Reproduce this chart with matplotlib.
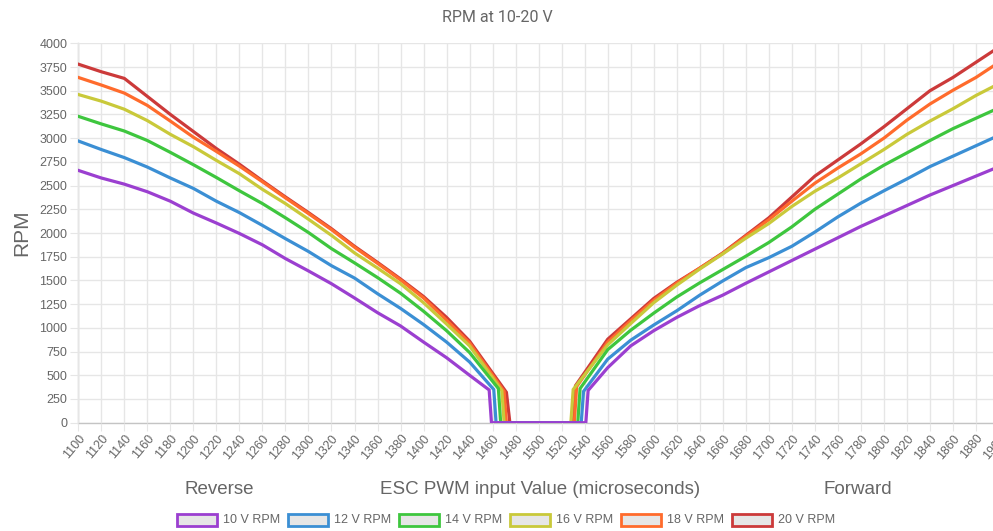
import matplotlib
matplotlib.use("Agg")
import matplotlib.pyplot as plt
from matplotlib.patches import Rectangle

# --- Data ---
labels = ["10 V RPM", "12 V RPM", "14 V RPM", "16 V RPM", "18 V RPM", "20 V RPM"]
colors = ["#9b3fd0", "#3b8fd4", "#3ec63e", "#c9c93a", "#ff6b2c", "#cc3a3a"]

rev_pwm = [1100, 1120, 1140, 1160, 1180, 1200, 1220, 1240, 1260,
           1280, 1300, 1320, 1340, 1360, 1380, 1400, 1420, 1440]
fwd_pwm = [1560, 1580, 1600, 1620, 1640, 1660, 1680, 1700, 1720,
           1740, 1760, 1780, 1800, 1820, 1840, 1860, 1880, 1900]

rpm10_rev = [2660, 2580, 2515, 2435, 2335, 2210, 2105, 1995, 1875,
             1730, 1600, 1465, 1315, 1160, 1020, 850, 685, 500]
rpm12_rev = [2970, 2880, 2795, 2695, 2580, 2470, 2335, 2215, 2080,
             1940, 1805, 1655, 1525, 1360, 1205, 1035, 850, 640]
rpm14_rev = [3230, 3150, 3075, 2975, 2850, 2720, 2585, 2445, 2310,
             2160, 2005, 1835, 1685, 1530, 1365, 1175, 970, 740]
rpm16_rev = [3460, 3390, 3305, 3185, 3040, 2910, 2765, 2625, 2460,
             2310, 2145, 1975, 1790, 1630, 1465, 1265, 1040, 810]
rpm18_rev = [3640, 3560, 3475, 3345, 3180, 3010, 2860, 2705, 2540,
             2370, 2205, 2035, 1850, 1680, 1505, 1315, 1080, 840]
rpm20_rev = [3780, 3700, 3630, 3440, 3250, 3070, 2890, 2725, 2550,
             2380, 2215, 2045, 1860, 1690, 1515, 1330, 1110, 860]

rpm10_fwd = [580, 810, 970, 1110, 1235, 1345, 1470, 1590, 1710,
             1830, 1950, 2070, 2180, 2290, 2400, 2500, 2600, 2700]
rpm12_fwd = [670, 870, 1030, 1180, 1345, 1495, 1635, 1740, 1860,
             2010, 2170, 2315, 2445, 2570, 2700, 2810, 2920, 3030]
rpm14_fwd = [770, 975, 1155, 1325, 1475, 1615, 1755, 1900, 2065,
             2250, 2410, 2570, 2715, 2845, 2975, 3100, 3210, 3320]
rpm16_fwd = [820, 1045, 1265, 1450, 1620, 1780, 1945, 2100, 2280,
             2440, 2580, 2730, 2880, 3040, 3180, 3310, 3450, 3575]
rpm18_fwd = [850, 1075, 1290, 1470, 1630, 1785, 1965, 2140, 2335,
             2525, 2685, 2835, 3000, 3190, 3360, 3505, 3640, 3800]
rpm20_fwd = [880, 1095, 1310, 1480, 1630, 1790, 1975, 2160, 2380,
             2600, 2770, 2940, 3120, 3310, 3500, 3640, 3800, 3960]

# dead-band edges: last point before cut-off, where it hits zero, and the mirror on the forward side
knee_rev_pwm = [1457, 1461, 1465, 1468, 1470, 1472]
knee_rev_rpm = [345, 350, 360, 340, 330, 320]
zero_rev_pwm = [1459, 1463, 1467, 1470, 1472, 1475]
zero_fwd_pwm = [1541, 1537, 1534, 1528, 1531, 1530]
knee_fwd_pwm = [1543, 1539, 1536, 1530, 1533, 1532]
knee_fwd_rpm = [340, 330, 360, 350, 380, 390]

rev_sets = [rpm10_rev, rpm12_rev, rpm14_rev, rpm16_rev, rpm18_rev, rpm20_rev]
fwd_sets = [rpm10_fwd, rpm12_fwd, rpm14_fwd, rpm16_fwd, rpm18_fwd, rpm20_fwd]

W, H = 993, 531
GRID = "#e6e6e6"
TXT = "#666666"
plt.rcParams['font.family'] = ['Liberation Sans', 'DejaVu Sans']

fig = plt.figure(figsize=(W / 100, H / 100), dpi=100)
# plot area runs slightly past the right edge, like the cropped reference
ax = fig.add_axes([78.3 / W, (H - 422.7) / H, (999 - 78.3) / W, (422.7 - 43.3) / H])

for i in range(6):
    xs = rev_pwm + [knee_rev_pwm[i], zero_rev_pwm[i], zero_fwd_pwm[i], knee_fwd_pwm[i]] + fwd_pwm
    ys = rev_sets[i] + [knee_rev_rpm[i], 0, 0, knee_fwd_rpm[i]] + fwd_sets[i]
    ax.plot(xs, ys, color=colors[i], lw=2.3, zorder=10 - i, solid_joinstyle='miter')

ax.set_xlim(1100, 1900)
ax.set_ylim(0, 4000)
ax.set_xticks(range(1100, 1901, 20))
ax.set_yticks(range(0, 4001, 250))
ax.grid(True, color=GRID, lw=1)
ax.set_axisbelow(True)
for s in ["top", "right"]:
    ax.spines[s].set_visible(False)
for s in ["left", "bottom"]:
    ax.spines[s].set_color("#c4c4c4")
    ax.spines[s].set_linewidth(1)
    ax.spines[s].set_zorder(0.5)

ax.tick_params(axis="both", length=6, color=GRID, labelcolor=TXT, labelsize=9)
ax.tick_params(axis="y", pad=2)
ax.tick_params(axis="x", pad=1)
for lab in ax.get_xticklabels():
    lab.set_rotation(50)
    lab.set_ha("right")
    lab.set_va("top")
    lab.set_rotation_mode("anchor")

ax.set_ylabel("RPM", fontsize=15, color=TXT, labelpad=6)

fig.text(497 / W, 1 - 17 / H, "RPM at 10-20 V", ha="center", va="center",
         fontsize=11.5, color=TXT, family=["Roboto", "DejaVu Sans"])
fig.text(219 / W, 1 - 489 / H, "Reverse", ha="center", va="center", fontsize=13.5, color=TXT)
fig.text(540 / W, 1 - 489 / H, "ESC PWM input Value (microseconds)", ha="center", va="center",
         fontsize=13.5, color=TXT)
fig.text(858 / W, 1 - 489 / H, "Forward", ha="center", va="center", fontsize=13.5, color=TXT)

# legend drawn by hand: outlined boxes + labels
for i in range(6):
    x0 = 177 + i * 111
    fig.patches.append(Rectangle((x0 / W, 1 - 526 / H), 40 / W, 12 / H, transform=fig.transFigure,
                                 facecolor="#e6e6e6", edgecolor=colors[i], lw=2))
    fig.text((x0 + 46) / W, 1 - 520 / H, labels[i], ha="left", va="center", fontsize=9, color=TXT)

fig.savefig("out.png", dpi=100)
